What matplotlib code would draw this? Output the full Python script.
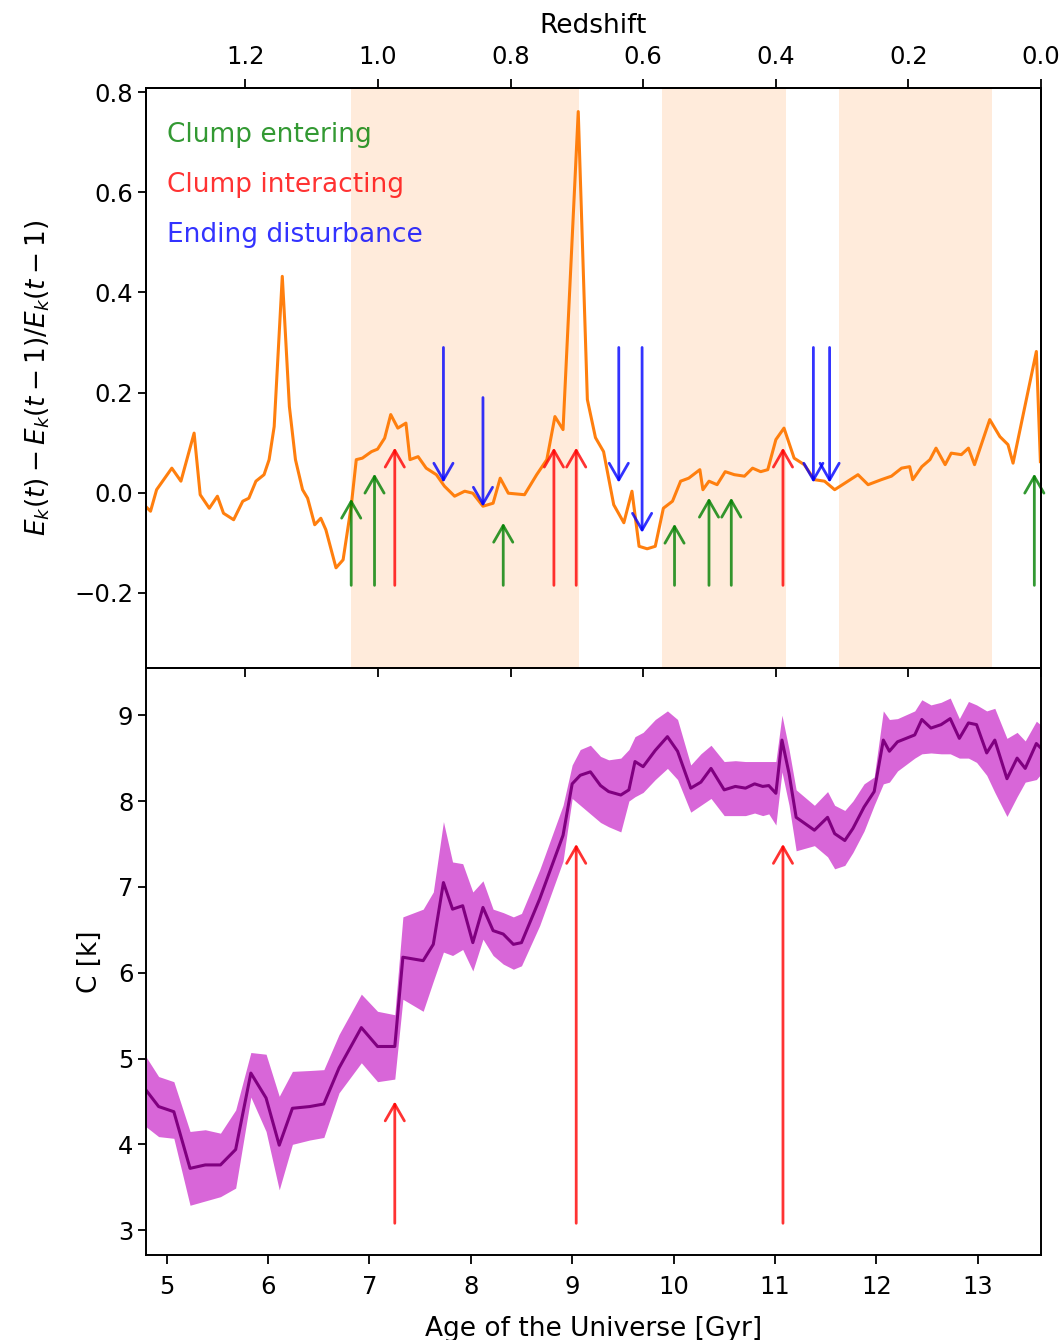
import numpy as np
import matplotlib.pyplot as plt

plt.rcParams['font.size'] = 17.5
plt.rcParams['axes.linewidth'] = 1.4
plt.rcParams['xtick.major.size'] = 6.5
plt.rcParams['ytick.major.size'] = 5.5
plt.rcParams['xtick.major.width'] = 1.3
plt.rcParams['ytick.major.width'] = 1.3

# relative kinetic energy change between snapshots
age_ek = [4.79, 4.84, 4.90, 5.05, 5.14, 5.27, 5.33, 5.42, 5.50, 5.56,
          5.66, 5.75, 5.81, 5.88, 5.96, 6.01, 6.06, 6.14, 6.21, 6.27,
          6.34, 6.39, 6.46, 6.52, 6.57, 6.67, 6.74, 6.82, 6.87, 6.93,
          7.02, 7.08, 7.15, 7.21, 7.28, 7.36, 7.40, 7.48, 7.56, 7.66,
          7.74, 7.84, 7.94, 8.02, 8.12, 8.22, 8.29, 8.37, 8.53, 8.65,
          8.75, 8.83, 8.91, 9.06, 9.15, 9.23, 9.31, 9.41, 9.51, 9.59,
          9.66, 9.74, 9.82, 9.90, 9.99, 10.07, 10.15, 10.26, 10.29, 10.35,
          10.43, 10.51, 10.60, 10.70, 10.78, 10.86, 10.93, 11.01, 11.09, 11.19,
          11.29, 11.39, 11.49, 11.59, 11.69, 11.82, 11.92, 12.05, 12.15, 12.25,
          12.33, 12.36, 12.45, 12.53, 12.59, 12.68, 12.74, 12.84, 12.91, 12.97,
          13.12, 13.22, 13.30, 13.35, 13.58, 13.62]
dek = [-0.027, -0.037, 0.006, 0.049, 0.023, 0.119, -0.004, -0.031, -0.007, -0.041,
       -0.054, -0.017, -0.011, 0.023, 0.036, 0.066, 0.132, 0.432, 0.172, 0.066,
       0.006, -0.011, -0.064, -0.051, -0.074, -0.150, -0.134, -0.027, 0.066, 0.069,
       0.082, 0.087, 0.109, 0.156, 0.129, 0.139, 0.066, 0.072, 0.049, 0.036,
       0.013, -0.007, 0.003, -0.001, -0.027, -0.021, 0.029, -0.001, -0.004, 0.036,
       0.066, 0.152, 0.126, 0.761, 0.186, 0.110, 0.082, -0.024, -0.060, 0.003,
       -0.107, -0.112, -0.107, -0.031, -0.017, 0.023, 0.029, 0.046, 0.006, 0.023,
       0.016, 0.042, 0.036, 0.033, 0.049, 0.042, 0.046, 0.106, 0.129, 0.069,
       0.056, 0.026, 0.023, 0.006, 0.019, 0.036, 0.016, 0.026, 0.033, 0.049,
       0.052, 0.026, 0.052, 0.066, 0.089, 0.056, 0.079, 0.076, 0.089, 0.056,
       0.146, 0.112, 0.096, 0.059, 0.282, 0.062]

# concentration: median and spread
age_c = [4.79, 4.92, 5.07, 5.23, 5.38, 5.53, 5.68, 5.83, 5.98, 6.11,
         6.24, 6.41, 6.55, 6.70, 6.92, 7.08, 7.25, 7.33, 7.53, 7.63,
         7.73, 7.82, 7.92, 8.02, 8.12, 8.22, 8.32, 8.42, 8.50, 8.68,
         8.91, 9.00, 9.08, 9.18, 9.28, 9.36, 9.48, 9.56, 9.62, 9.70,
         9.82, 9.94, 10.04, 10.17, 10.27, 10.37, 10.50, 10.61, 10.71, 10.80,
         10.88, 10.94, 11.01, 11.07, 11.14, 11.21, 11.39, 11.52, 11.59, 11.69,
         11.77, 11.88, 11.98, 12.07, 12.13, 12.21, 12.38, 12.45, 12.54, 12.64,
         12.73, 12.82, 12.91, 12.99, 13.09, 13.17, 13.29, 13.39, 13.47, 13.58,
         13.63]
c_med = [4.64, 4.44, 4.38, 3.72, 3.76, 3.76, 3.94, 4.83, 4.54, 3.99,
         4.42, 4.44, 4.47, 4.89, 5.36, 5.14, 5.14, 6.18, 6.14, 6.33,
         7.05, 6.74, 6.78, 6.35, 6.76, 6.49, 6.45, 6.33, 6.35, 6.86,
         7.60, 8.20, 8.30, 8.34, 8.18, 8.11, 8.07, 8.13, 8.46, 8.40,
         8.59, 8.75, 8.58, 8.15, 8.22, 8.38, 8.13, 8.17, 8.15, 8.20,
         8.17, 8.18, 8.09, 8.71, 8.32, 7.81, 7.66, 7.81, 7.62, 7.54,
         7.68, 7.93, 8.11, 8.71, 8.58, 8.69, 8.77, 8.95, 8.85, 8.89,
         8.96, 8.73, 8.91, 8.89, 8.56, 8.71, 8.26, 8.50, 8.38, 8.67,
         8.61]
c_lo = [4.21, 4.09, 4.07, 3.29, 3.34, 3.39, 3.49, 4.55, 4.15, 3.47,
        4.00, 4.05, 4.08, 4.60, 4.95, 4.73, 4.76, 5.69, 5.55, 5.90,
        6.24, 6.20, 6.27, 6.02, 6.39, 6.20, 6.10, 6.04, 6.08, 6.55,
        7.30, 8.03, 7.95, 7.85, 7.75, 7.70, 7.64, 8.00, 8.05, 8.10,
        8.25, 8.38, 8.25, 7.87, 7.95, 8.03, 7.83, 7.83, 7.83, 7.86,
        7.83, 7.85, 7.72, 8.34, 7.95, 7.42, 7.48, 7.35, 7.21, 7.25,
        7.40, 7.65, 7.95, 8.20, 8.22, 8.35, 8.50, 8.55, 8.56, 8.55,
        8.55, 8.50, 8.50, 8.45, 8.30, 8.10, 7.82, 8.05, 8.22, 8.25,
        8.32]
c_hi = [5.03, 4.79, 4.73, 4.15, 4.17, 4.13, 4.40, 5.07, 5.05, 4.56,
        4.85, 4.86, 4.87, 5.28, 5.75, 5.55, 5.51, 6.65, 6.74, 6.94,
        7.76, 7.29, 7.27, 6.94, 7.07, 6.74, 6.70, 6.65, 6.69, 7.20,
        7.95, 8.42, 8.60, 8.65, 8.52, 8.48, 8.50, 8.60, 8.75, 8.80,
        8.95, 9.05, 8.95, 8.42, 8.55, 8.65, 8.46, 8.47, 8.46, 8.46,
        8.46, 8.46, 8.46, 9.00, 8.60, 8.13, 7.95, 8.11, 7.95, 7.89,
        8.00, 8.20, 8.28, 9.05, 8.95, 8.96, 9.05, 9.18, 9.12, 9.15,
        9.20, 8.96, 9.16, 9.12, 9.05, 9.08, 8.73, 8.80, 8.70, 8.93,
        8.88]

# events in Gyr, with arrow ends in data units
entering_t = [6.82, 7.05, 8.32, 10.01, 10.35, 10.57, 13.56]
entering_head = [-0.012, 0.038, -0.060, -0.062, -0.010, -0.010, 0.038]
interacting_t = [7.25, 8.82, 9.04, 11.08]
interacting_head = [0.09, 0.09, 0.09, 0.09]
ending_t = [7.73, 8.12, 9.46, 9.69, 11.38, 11.54]
ending_start = [0.29, 0.19, 0.29, 0.29, 0.29, 0.29]
ending_head = [0.02, -0.028, 0.02, -0.08, 0.02, 0.02]
arrow_base = -0.185

c_event_t = [7.25, 9.04, 11.08]
c_event_head = [4.5, 7.5, 7.5]
c_arrow_base = 3.08

# quiet periods
quiet_start = [6.82, 9.89, 11.63]
quiet_end = [9.07, 11.11, 13.14]

z_ticks = [1.2, 1.0, 0.8, 0.6, 0.4, 0.2, 0.0]


def arrow(ax, x, y0, y1, color):
    ax.annotate('', xy=(x, y1), xytext=(x, y0),
                arrowprops=dict(arrowstyle='->,head_length=0.4,head_width=0.23',
                                color=color, lw=2.0, alpha=0.8,
                                mutation_scale=30, shrinkA=0, shrinkB=0))


fig = plt.figure(figsize=(10.6, 13.4), dpi=100)
ax1 = fig.add_axes([0.1377, 0.5015, 0.8443, 0.4328])
ax2 = fig.add_axes([0.1377, 0.0634, 0.8443, 0.4381], sharex=ax1)

# top panel
for a, b in zip(quiet_start, quiet_end):
    ax1.axvspan(a, b, color='tab:orange', alpha=0.15, lw=0)
ax1.plot(age_ek, dek, color='tab:orange', lw=2.2)

for t, h in zip(entering_t, entering_head):
    arrow(ax1, t, arrow_base, h, 'g')
for t, h in zip(interacting_t, interacting_head):
    arrow(ax1, t, arrow_base, h, 'r')
for t, s, h in zip(ending_t, ending_start, ending_head):
    arrow(ax1, t, s, h, 'b')

ax1.text(5.0, 0.7, 'Clump entering', color='g', alpha=0.8, fontsize=19)
ax1.text(5.0, 0.6, 'Clump interacting', color='r', alpha=0.8, fontsize=19)
ax1.text(5.0, 0.5, 'Ending disturbance', color='b', alpha=0.8, fontsize=19)

ax1.set_ylim(-0.35, 0.808)
ax1.set_yticks([-0.2, 0.0, 0.2, 0.4, 0.6, 0.8])
ax1.tick_params(axis='x', bottom=False, labelbottom=False)
ax1.set_ylabel(r'$E_k(t) - E_k(t-1)/E_k(t-1)$', fontsize=19, labelpad=16)

zax = ax1.twiny()
zax.set_xlim(1.35, 0.0)
zax.set_xticks(z_ticks)
zax.tick_params(axis='x', bottom=True, top=True, labelbottom=False,
                labeltop=True, pad=7)
zax.set_xlabel('Redshift', fontsize=19, labelpad=9)

# bottom panel
ax2.fill_between(age_c, c_lo, c_hi, color='m', alpha=0.6, lw=0)
ax2.plot(age_c, c_med, color='purple', lw=2.2)
for t, h in zip(c_event_t, c_event_head):
    arrow(ax2, t, c_arrow_base, h, 'r')

ax2.set_xlim(4.795, 13.625)
ax2.set_ylim(2.71, 9.55)
ax2.set_xticks(np.arange(5, 14))
ax2.set_yticks(np.arange(3, 10))
ax2.tick_params(axis='x', pad=8)
ax2.set_xlabel('Age of the Universe [Gyr]', fontsize=19, labelpad=12)
ax2.set_ylabel('C [k]', fontsize=19, labelpad=11)

fig.savefig('out.png', dpi=100)
